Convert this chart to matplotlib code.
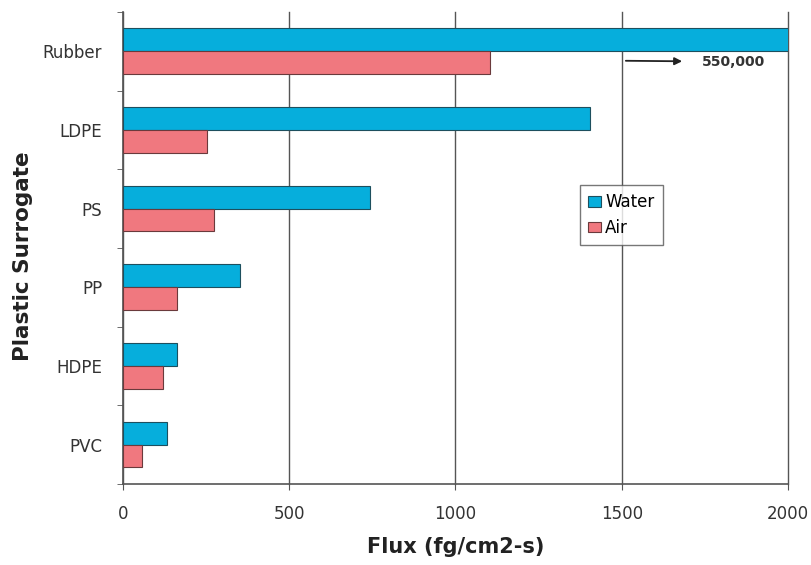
import matplotlib
matplotlib.use("Agg")
import matplotlib.pyplot as plt
import numpy as np

plt.rcParams['font.family'] = ['DejaVu Sans']

categories = ["Rubber", "LDPE", "PS", "PP", "HDPE", "PVC"]
water = [550000, 1405, 743, 352, 162, 132]
air = [1104, 253, 274, 162, 120, 57]
xticks = [0, 500, 1000, 1500, 2000]
annot_text = "550,000"

fig = plt.figure(figsize=(8.11, 5.65), dpi=100)
ax = fig.add_axes([0.1517, 0.1434, 0.8199, 0.8354])

n = len(categories)
pos = np.arange(n)[::-1].astype(float)  # Rubber at top
h = 0.29
water_c = "#06AEDC"
air_c = "#F0787F"
ax.barh(pos + h / 2, water, height=h, color=water_c, edgecolor="#1d4f5e", linewidth=0.8, label="Water", zorder=3)
ax.barh(pos - h / 2, air, height=h, color=air_c, edgecolor="#6a3a3c", linewidth=0.8, label="Air", zorder=3)

ax.set_xlim(0, 2000)
ax.set_ylim(-0.5, n - 0.5)
ax.set_xticks(xticks)
ax.set_xticklabels([str(v) for v in xticks], fontsize=12, color="#333333")
ax.xaxis.grid(True, color="#555555", linewidth=1.0, zorder=0)
for gl in ax.get_xgridlines():
    gl.set_clip_on(False)
ax.set_yticks(pos)
ax.set_yticklabels(categories, fontsize=12, color="#333333")
ax.tick_params(axis="y", which="major", length=0, pad=15)
ax.set_yticks(np.arange(n + 1) - 0.5, minor=True)
ax.tick_params(axis="y", which="minor", length=4.5, color="#555555", direction="out")
ax.tick_params(axis="x", length=4.5, color="#555555", direction="out", pad=10.5)

for s in ["top", "right"]:
    ax.spines[s].set_visible(False)
for s in ["left", "bottom"]:
    ax.spines[s].set_color("#555555")
    ax.spines[s].set_linewidth(1.2)

ax.set_xlabel("Flux (fg/cm2-s)", fontsize=15, fontweight="bold", color="#222222", labelpad=10)
ax.set_ylabel("Plastic Surrogate", fontsize=15.5, fontweight="bold", color="#222222")
ax.yaxis.set_label_coords(-0.1353, 0.482)

# annotation for the off-scale rubber water value
ax.annotate("", xy=(1690, pos[0] - 0.127), xytext=(1504, pos[0] - 0.12),
            arrowprops=dict(arrowstyle="-|>", color="#222222", lw=1.3, mutation_scale=11), zorder=5)
ax.text(1741, pos[0] - 0.14, annot_text, fontsize=10, fontweight="bold", color="#333333",
        va="center", ha="left", zorder=5)

leg = ax.legend(loc="upper left", bbox_to_anchor=(0.687, 0.6335), borderaxespad=0, fontsize=12,
                frameon=True, fancybox=False, edgecolor="#555555", handlelength=0.78,
                handleheight=0.6, handletextpad=0.25, borderpad=0.5, labelspacing=0.45)
leg.get_frame().set_linewidth(1.0)

fig.savefig("out.png", dpi=100)
